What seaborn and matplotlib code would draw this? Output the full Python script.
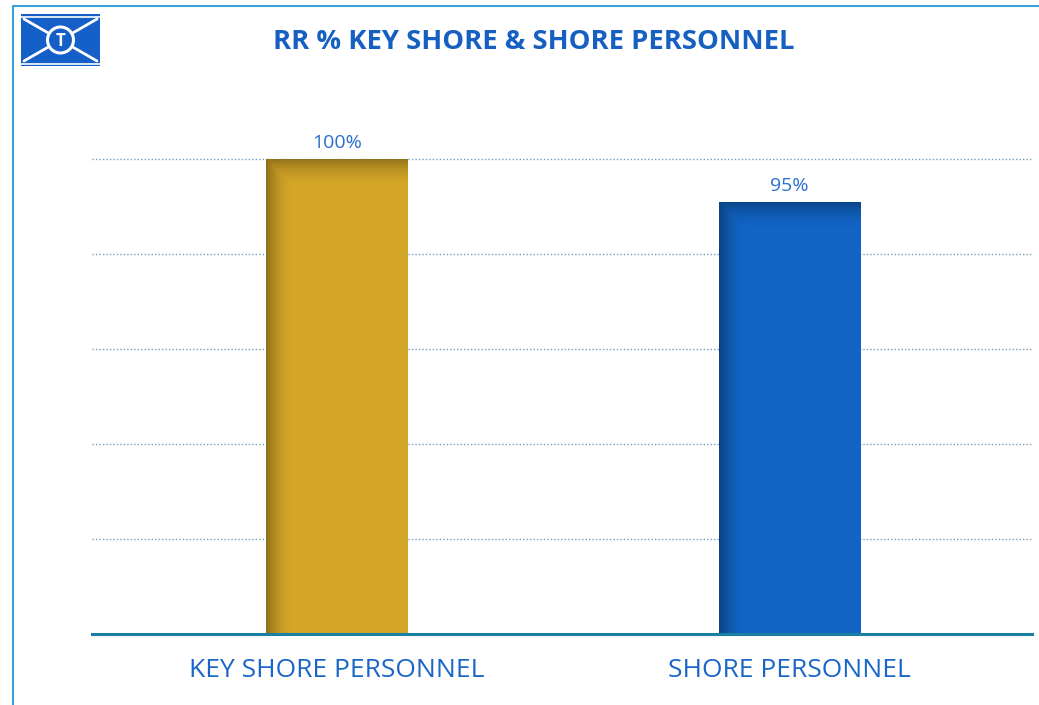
import numpy as np
import pandas as pd
import matplotlib
matplotlib.use("Agg")
import matplotlib.pyplot as plt
import seaborn as sns
from matplotlib.patches import Rectangle, Ellipse
from matplotlib.lines import Line2D

categories = ["KEY SHORE PERSONNEL", "SHORE PERSONNEL"]
values = [100, 95]
labels = ["100%", "95%"]
title = "RR % KEY SHORE & SHORE PERSONNEL"
bar_colors = ["#D4A627", "#1164C4"]

sns.set_theme(style="white")
plt.rcParams['font.family'] = ['Open Sans', 'DejaVu Sans']

W, H = 1039, 705
fig = plt.figure(figsize=(W/100, H/100), dpi=100)
# axes: x 92..1032, y from 100 (top) to 634 (baseline)
ax = fig.add_axes([92/W, 1-634/H, (1032-92)/W, (634-100)/H])

df = pd.DataFrame({"cat": categories, "val": values})
sns.barplot(data=df, x="cat", y="val", hue="cat", palette=bar_colors,
            width=0.313, ax=ax, legend=False, saturation=1, linewidth=0)

ymin, ytop = 45, 100
px_per = 475/(ytop-ymin)
ylim = (ymin, ytop + 59/px_per)
xlim = (-0.54, 1.535)

ax.set_yticks([])
ax.set_ylabel("")
ax.set_xlabel("")
for s in ["top", "right", "left"]:
    ax.spines[s].set_visible(False)
ax.spines["bottom"].set_color("#1a7fa0")
ax.spines["bottom"].set_linewidth(2.2)
ax.spines["bottom"].set_zorder(5)
ax.tick_params(axis="x", length=0, pad=17)
ax.set_xticks(range(len(categories)))
ax.set_xticklabels(categories, fontsize=19, color="#1a66c8", fontweight="normal")

for g in np.linspace(ymin, ytop, 6)[1:]:
    ax.axhline(g, color="#6f9fbb", lw=1.0, ls=(0, (1, 1.5)), zorder=0)

# gradient shading on bars
for p, c in zip(ax.patches, bar_colors):
    x0 = p.get_x()
    w, h = p.get_width(), p.get_height()
    nx, ny = 200, 300
    xs = np.linspace(0, 1, nx)
    ys = np.linspace(0, 1, ny)
    left = np.clip(1 - xs / 0.2, 0, 1) ** 2
    hp = (h - ymin) * px_per
    topfrac = 28 / hp
    top = np.clip(1 - (1 - ys) / topfrac, 0, 1) ** 2
    A = np.maximum(left[None, :] * 0.33, top[:, None] * 0.3)
    img = np.zeros((ny, nx, 4))
    img[..., 3] = A
    ax.imshow(img, extent=[x0, x0 + w, ymin, h], origin="lower",
              aspect="auto", zorder=p.get_zorder() + 0.1, interpolation="bilinear")

ax.set_ylim(*ylim)
ax.set_xlim(*xlim)

for p, lab in zip(ax.patches, labels):
    ax.annotate(lab, (p.get_x() + p.get_width()/2, p.get_height()),
                xytext=(0, 5), textcoords="offset points", ha="center", va="bottom",
                fontsize=14, color="#2a6fcf")

fig.text(534/W, 1-42/H, title, ha="center", va="center", fontsize=19.7,
         fontweight="bold", color="#1560c0")

# frame lines
fig.add_artist(Line2D([13/W, 1], [1-6/H, 1-6/H], color="#3aa0d8", lw=1.5))
fig.add_artist(Line2D([13/W, 13/W], [0, 1-6/H], color="#3aa0d8", lw=1.5))

# logo
lx0, ly0, lx1, ly1 = 21, 14, 100, 66
def fx(x): return x / W
def fy(y): return 1 - y / H
blue = "#1560c8"
fig.add_artist(Rectangle((fx(lx0), fy(ly1)), fx(lx1) - fx(lx0), fy(ly0) - fy(ly1),
                         facecolor=blue, edgecolor="none"))
fig.add_artist(Line2D([fx(lx0), fx(lx1)], [fy(ly0 + 2.5), fy(ly0 + 2.5)], color="white", lw=1.2))
fig.add_artist(Line2D([fx(lx0), fx(lx1)], [fy(ly1 - 2.5), fy(ly1 - 2.5)], color="white", lw=1.2))
fig.add_artist(Line2D([fx(lx0 + 3), fx(lx1 - 3)], [fy(ly0 + 5), fy(ly1 - 5)], color="white", lw=2))
fig.add_artist(Line2D([fx(lx0 + 3), fx(lx1 - 3)], [fy(ly1 - 5), fy(ly0 + 5)], color="white", lw=2))
cx, cy, r = 60.5, 40, 13
circ = Ellipse((fx(cx), fy(cy)), 2*r / W, 2*r / H, transform=fig.transFigure,
               facecolor=blue, edgecolor="white", lw=2.2, zorder=2)
fig.add_artist(circ)
fig.text(fx(cx), fy(cy + 0.5), "T", ha="center", va="center", color="white",
         fontsize=12, fontweight="bold", zorder=3)

fig.savefig("out.png", dpi=100)
